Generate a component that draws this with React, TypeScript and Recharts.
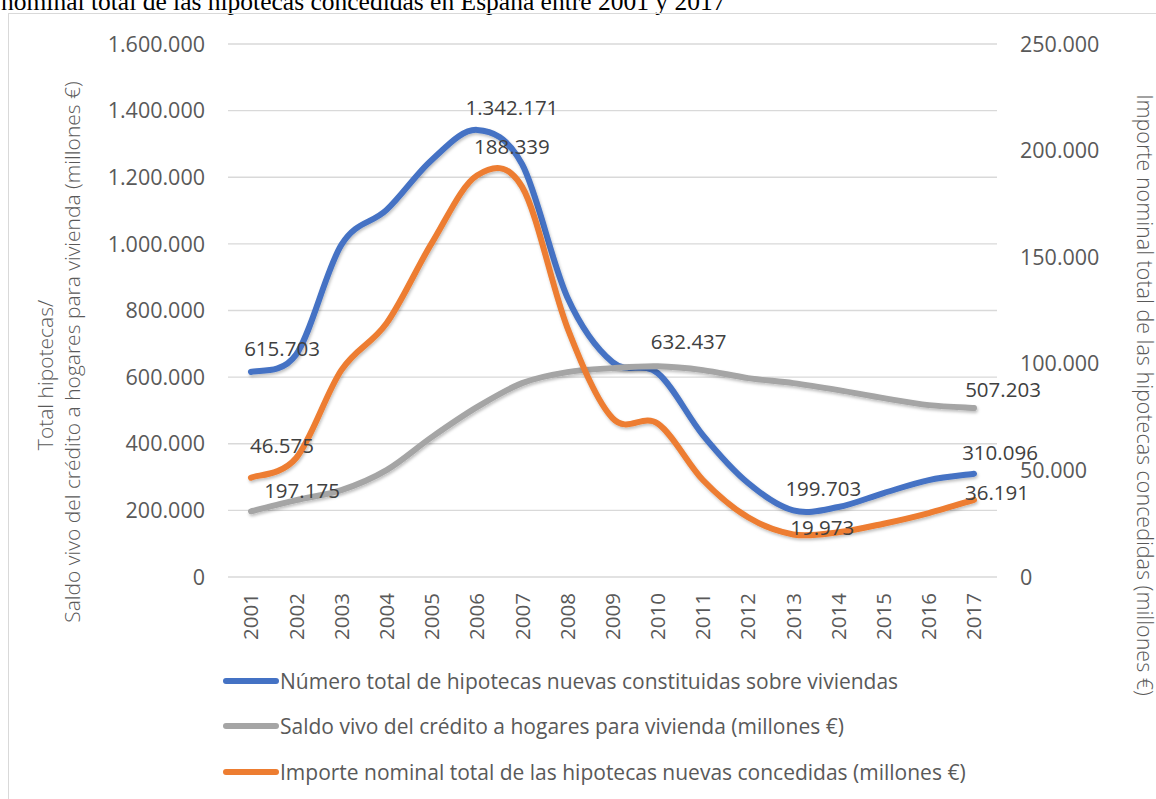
import React from 'react';
import { LineChart, Line, XAxis, YAxis, CartesianGrid, Legend, LabelList } from 'recharts';

const YEARS = ['2001', '2002', '2003', '2004', '2005', '2006', '2007', '2008', '2009', '2010', '2011', '2012', '2013', '2014', '2015', '2016', '2017'];

// Número total de hipotecas nuevas constituidas sobre viviendas
const NUMERO_HIPOTECAS = [615703, 668000, 997000, 1102000, 1252000, 1342171, 1239000, 840000, 645000, 612000, 426000, 282000, 199703, 210000, 252000, 291000, 310096];
// Saldo vivo del crédito a hogares para vivienda (millones €)
const SALDO_VIVO = [197175, 231000, 261000, 321000, 420000, 510000, 582000, 615000, 627000, 632437, 621000, 597000, 582000, 561000, 537000, 516000, 507203];
// Importe nominal total de las hipotecas nuevas concedidas (millones €)
const IMPORTE_NOMINAL = [46575, 55800, 97000, 119000, 156600, 188339, 183000, 117000, 74500, 72000, 45500, 28000, 19973, 21000, 25000, 30000, 36191];

const LEFT_TICKS = [0, 200000, 400000, 600000, 800000, 1000000, 1200000, 1400000, 1600000];
const RIGHT_TICKS = [0, 50000, 100000, 150000, 200000, 250000];

const SERIES = [
  { key: 'numero', name: 'Número total de hipotecas nuevas constituidas sobre viviendas', color: '#4472C4', axis: 'left' },
  { key: 'saldo', name: 'Saldo vivo del crédito a hogares para vivienda (millones €)', color: '#A5A5A5', axis: 'left' },
  { key: 'importe', name: 'Importe nominal total de las hipotecas nuevas concedidas (millones €)', color: '#ED7D31', axis: 'right' },
];

// which points carry a data label, and how far the label sits from the point
const LABEL_OFFSETS: Record<string, Record<number, [number, number]>> = {
  numero: { 0: [31, -24], 5: [35, -23], 12: [30, -22], 16: [26, -22] },
  saldo: { 0: [51, -21], 9: [31, -25], 16: [29, -19] },
  importe: { 0: [31, -33], 5: [35, -29], 12: [29, -7], 16: [23, -8] },
};

const data = YEARS.map((year, i) => ({
  year,
  numero: NUMERO_HIPOTECAS[i],
  saldo: SALDO_VIVO[i],
  importe: IMPORTE_NOMINAL[i],
}));

const FONT = "'Open Sans', 'Noto Sans', sans-serif";
const TEXT = '#595959';

const fmt = (v: number) => String(v).replace(/\B(?=(\d{3})+(?!\d))/g, '.');

// Excel-like smoothed line (Catmull-Rom through every point)
const excelSmooth = (context: any) => {
  let pts: number[][] = [];
  return {
    areaStart() {},
    areaEnd() {},
    lineStart() { pts = []; },
    point(x: number, y: number) { pts.push([+x, +y]); },
    lineEnd() {
      if (!pts.length) return;
      context.moveTo(pts[0][0], pts[0][1]);
      for (let i = 0; i < pts.length - 1; i++) {
        const p0 = pts[i - 1] || pts[i];
        const p1 = pts[i];
        const p2 = pts[i + 1];
        const p3 = pts[i + 2] || p2;
        context.bezierCurveTo(
          p1[0] + (p2[0] - p0[0]) / 6, p1[1] + (p2[1] - p0[1]) / 6,
          p2[0] - (p3[0] - p1[0]) / 6, p2[1] - (p3[1] - p1[1]) / 6,
          p2[0], p2[1]
        );
      }
    },
  };
};

const YearTick = ({ x, y, payload }: any) => (
  <text
    x={x}
    y={y + 16}
    transform={`rotate(-90, ${x}, ${y + 16})`}
    textAnchor="end"
    dy="0.36em"
    fill={TEXT}
    fontSize={20.5}
    fontFamily={FONT}
  >
    {payload.value}
  </text>
);

const makeLabel = (key: string) => (props: any) => {
  const { x, y, value, index } = props;
  const off = LABEL_OFFSETS[key][index];
  if (!off) return null;
  return (
    <text
      x={x + off[0]}
      y={y + off[1]}
      textAnchor="middle"
      dominantBaseline="central"
      fill="#404040"
      fontSize={20.5}
      fontFamily={FONT}
    >
      {fmt(value)}
    </text>
  );
};

const LeftTitle = () => (
  <g fill={TEXT} fontSize={21} fontFamily={FONT} fontWeight={300}>
    <text x={45} y={375} transform="rotate(-90, 45, 375)" textAnchor="middle" dominantBaseline="central">
      Total hipotecas/
    </text>
    <text x={72} y={352} transform="rotate(-90, 72, 352)" textAnchor="middle" dominantBaseline="central">
      Saldo vivo del crédito a hogares para vivienda (millones €)
    </text>
  </g>
);

const RightTitle = () => (
  <text
    x={1145}
    y={395}
    transform="rotate(90, 1145, 395)"
    textAnchor="middle"
    dominantBaseline="central"
    fill={TEXT}
    fontSize={21.5}
    fontFamily={FONT}
    fontWeight={300}
  >
    Importe nominal total de las hipotecas concedidas (millones €)
  </text>
);

const LegendContent = () => (
  <div style={{ fontFamily: FONT, fontSize: 21, color: TEXT }}>
    {SERIES.map((s) => (
      <div key={s.key} style={{ display: 'flex', alignItems: 'center', height: 45.5, whiteSpace: 'nowrap' }}>
        <svg width={58} height={10}>
          <line x1={4} y1={5} x2={54} y2={5} stroke={s.color} strokeWidth={6} strokeLinecap="round" />
        </svg>
        <span>{s.name}</span>
      </div>
    ))}
  </div>
);

export default function App() {
  return (
    <div style={{ position: 'absolute', left: 0, top: 0, width: 1156, height: 799, overflow: 'hidden', background: '#fff' }}>
      <div
        style={{
          position: 'absolute', left: 1, top: -11, fontFamily: "'Liberation Serif', 'Times New Roman', serif",
          fontSize: 25.5, lineHeight: '26px', whiteSpace: 'nowrap', color: '#000',
        }}
      >
        nominal total de las hipotecas concedidas en España entre 2001 y 2017
      </div>
      <div style={{ position: 'absolute', left: 8, top: 13, width: 1170, height: 800, border: '1px solid #d9d9d9', boxSizing: 'border-box' }} />
      <div style={{ position: 'absolute', left: 0, top: 0 }}>
        <LineChart width={1156} height={799} data={data} margin={{ top: 44, right: 0, bottom: 0, left: 0 }}>
          <defs>
            <filter id="lineShadow" x="-5%" y="-5%" width="110%" height="120%">
              <feDropShadow dx="1" dy="2" stdDeviation="1.5" floodColor="#000" floodOpacity="0.25" />
            </filter>
          </defs>
          <CartesianGrid yAxisId="left" vertical={false} stroke="#d9d9d9" strokeWidth={1.3} />
          <XAxis
            dataKey="year"
            height={222}
            interval={0}
            padding={{ left: 23, right: 23 }}
            axisLine={false}
            tickLine={false}
            tickSize={0}
            tickMargin={0}
            tick={<YearTick />}
          />
          <YAxis
            yAxisId="left"
            width={228}
            domain={[0, 1600000]}
            ticks={LEFT_TICKS}
            tickFormatter={fmt}
            axisLine={false}
            tickLine={false}
            tickSize={0}
            tickMargin={23}
            tick={{ fill: TEXT, fontSize: 21.5, fontFamily: FONT }}
            label={{ content: <LeftTitle /> }}
          />
          <YAxis
            yAxisId="right"
            orientation="right"
            width={159}
            domain={[0, 250000]}
            ticks={RIGHT_TICKS}
            tickFormatter={fmt}
            axisLine={false}
            tickLine={false}
            tickSize={0}
            tickMargin={23}
            tick={{ fill: TEXT, fontSize: 21.5, fontFamily: FONT, textAnchor: 'start' }}
            label={{ content: <RightTitle /> }}
          />
          {SERIES.map((s) => (
            <Line
              key={s.key}
              yAxisId={s.axis}
              dataKey={s.key}
              name={s.name}
              type={excelSmooth as any}
              stroke={s.color}
              strokeWidth={6}
              strokeLinecap="round"
              filter="url(#lineShadow)"
              dot={false}
              activeDot={false}
              isAnimationActive={false}
            >
              <LabelList dataKey={s.key} content={makeLabel(s.key)} />
            </Line>
          ))}
          <Legend
            layout="vertical"
            align="center"
            verticalAlign="middle"
            content={<LegendContent />}
            wrapperStyle={{ position: 'absolute', left: 222, top: 658, width: 820, height: 140 }}
          />
        </LineChart>
      </div>
    </div>
  );
}
